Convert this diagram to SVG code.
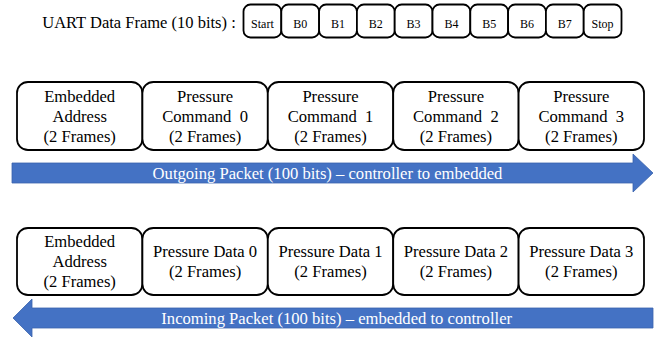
<svg xmlns="http://www.w3.org/2000/svg" width="659" height="337" viewBox="0 0 659 337">
<style>
.bit{fill:#fff;stroke:#000;stroke-width:1.8}
.box{fill:#fff;stroke:#000;stroke-width:1.8}
.t{font-family:"Liberation Serif","Times New Roman",serif;fill:#000;text-anchor:middle}
.bt{font-size:12px}
.nt{font-size:16.6px}
.at{font-family:"Liberation Serif","Times New Roman",serif;fill:#fff;font-size:16.6px;text-anchor:middle}
.arr{fill:#4472C4;stroke:#3A63AD;stroke-width:0.8}
</style>
<rect width="659" height="337" fill="#fff"/>
<text class="t" x="139" y="28" font-size="16.5px">UART Data Frame (10 bits) :</text>
<g id="uart">
<g id="bit-start"><rect class="bit" x="243.5" y="4.5" width="37.8" height="33" rx="7"/><text class="t bt" x="262.4" y="27.5">Start</text></g>
<g id="bit-b0"><rect class="bit" x="281.3" y="4.5" width="37.8" height="33" rx="7"/><text class="t bt" x="300.2" y="27.5">B0</text></g>
<g id="bit-b1"><rect class="bit" x="319.1" y="4.5" width="37.8" height="33" rx="7"/><text class="t bt" x="338" y="27.5">B1</text></g>
<g id="bit-b2"><rect class="bit" x="356.9" y="4.5" width="37.8" height="33" rx="7"/><text class="t bt" x="375.8" y="27.5">B2</text></g>
<g id="bit-b3"><rect class="bit" x="394.7" y="4.5" width="37.8" height="33" rx="7"/><text class="t bt" x="413.6" y="27.5">B3</text></g>
<g id="bit-b4"><rect class="bit" x="432.5" y="4.5" width="37.8" height="33" rx="7"/><text class="t bt" x="451.4" y="27.5">B4</text></g>
<g id="bit-b5"><rect class="bit" x="470.3" y="4.5" width="37.8" height="33" rx="7"/><text class="t bt" x="489.2" y="27.5">B5</text></g>
<g id="bit-b6"><rect class="bit" x="508.1" y="4.5" width="37.8" height="33" rx="7"/><text class="t bt" x="527" y="27.5">B6</text></g>
<g id="bit-b7"><rect class="bit" x="545.9" y="4.5" width="37.8" height="33" rx="7"/><text class="t bt" x="564.8" y="27.5">B7</text></g>
<g id="bit-stop"><rect class="bit" x="583.7" y="4.5" width="37.8" height="33" rx="7"/><text class="t bt" x="602.6" y="27.5">Stop</text></g>
</g>
<g id="connectors">
<path id="outgoing-arrow" class="arr" d="M12,163 H633 V154 L653,173 L633,192 V183 H12 Z"/>
<path id="incoming-arrow" class="arr" d="M653,308 H32 V299 L13,318 L32,337 V328 H653 Z"/>
<text class="at" x="327.5" y="179">Outgoing Packet (100 bits) – controller to embedded</text>
<text class="at" x="336.7" y="324">Incoming Packet (100 bits) – embedded to controller</text>
</g>
<g id="out-addr"><rect class="box" x="17" y="82" width="125.4" height="68" rx="11"/><text class="t nt" x="79.7" y="102">Embedded</text><text class="t nt" x="79.7" y="122">Address</text><text class="t nt" x="79.7" y="142">(2 Frames)</text></g>
<g id="out-cmd0"><rect class="box" x="142.4" y="82" width="125.4" height="68" rx="11"/><text class="t nt" x="205.1" y="102">Pressure</text><text class="t nt" x="205.1" y="122" xml:space="preserve">Command  0</text><text class="t nt" x="205.1" y="142">(2 Frames)</text></g>
<g id="out-cmd1"><rect class="box" x="267.8" y="82" width="125.4" height="68" rx="11"/><text class="t nt" x="330.5" y="102">Pressure</text><text class="t nt" x="330.5" y="122" xml:space="preserve">Command  1</text><text class="t nt" x="330.5" y="142">(2 Frames)</text></g>
<g id="out-cmd2"><rect class="box" x="393.2" y="82" width="125.4" height="68" rx="11"/><text class="t nt" x="455.9" y="102">Pressure</text><text class="t nt" x="455.9" y="122" xml:space="preserve">Command  2</text><text class="t nt" x="455.9" y="142">(2 Frames)</text></g>
<g id="out-cmd3"><rect class="box" x="518.6" y="82" width="125.4" height="68" rx="11"/><text class="t nt" x="581.3" y="102">Pressure</text><text class="t nt" x="581.3" y="122" xml:space="preserve">Command  3</text><text class="t nt" x="581.3" y="142">(2 Frames)</text></g>
<g id="in-addr"><rect class="box" x="17" y="228" width="125.4" height="67" rx="11"/><text class="t nt" x="79.7" y="247">Embedded</text><text class="t nt" x="79.7" y="267">Address</text><text class="t nt" x="79.7" y="287">(2 Frames)</text></g>
<g id="in-data0"><rect class="box" x="142.4" y="228" width="125.4" height="67" rx="11"/><text class="t nt" x="205.1" y="257">Pressure Data 0</text><text class="t nt" x="205.1" y="277">(2 Frames)</text></g>
<g id="in-data1"><rect class="box" x="267.8" y="228" width="125.4" height="67" rx="11"/><text class="t nt" x="330.5" y="257">Pressure Data 1</text><text class="t nt" x="330.5" y="277">(2 Frames)</text></g>
<g id="in-data2"><rect class="box" x="393.2" y="228" width="125.4" height="67" rx="11"/><text class="t nt" x="455.9" y="257">Pressure Data 2</text><text class="t nt" x="455.9" y="277">(2 Frames)</text></g>
<g id="in-data3"><rect class="box" x="518.6" y="228" width="125.4" height="67" rx="11"/><text class="t nt" x="581.3" y="257">Pressure Data 3</text><text class="t nt" x="581.3" y="277">(2 Frames)</text></g>
</svg>
